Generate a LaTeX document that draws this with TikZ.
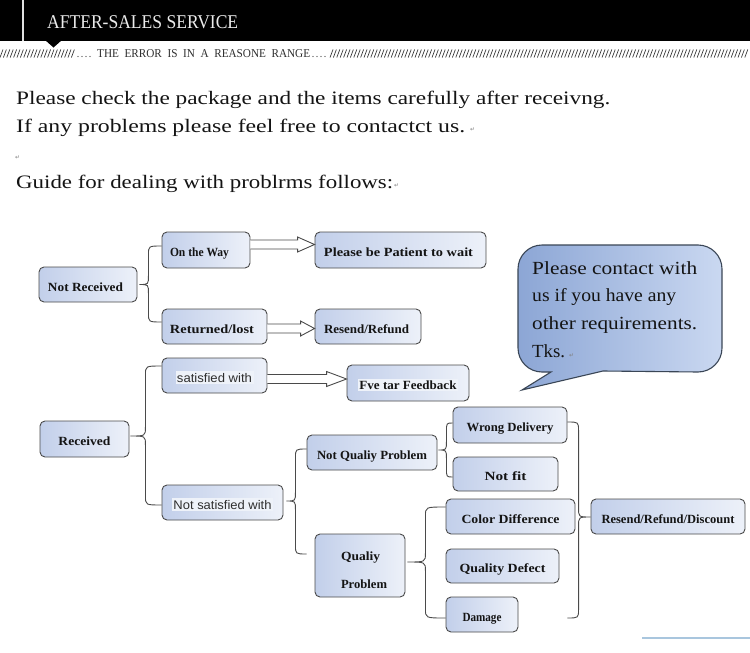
\documentclass[tikz,border=0pt]{standalone}
\usepackage{fontspec}
\setmainfont{Liberation Serif}
\newfontfamily\sansf{Liberation Sans}
\newfontfamily\symf{DejaVu Sans}
\usetikzlibrary{calc}
\definecolor{boxL}{HTML}{C2CFEA}
\definecolor{boxR}{HTML}{EDF1F9}
\definecolor{edge}{HTML}{4A4A4A}
\definecolor{bubL}{HTML}{8CA6D5}
\definecolor{bubR}{HTML}{CAD8F1}
\definecolor{bubE}{HTML}{3A4656}
\definecolor{hl}{HTML}{EEF2F9}
\definecolor{ink}{HTML}{141414}
\definecolor{sink}{HTML}{2E2E2E}
\definecolor{hatchc}{HTML}{3A3A3A}
\definecolor{lineblue}{HTML}{A9C6DE}
\newcommand\fw[2]{\resizebox{#1pt}{\height}{#2}}
\newcommand\mk{{\symf\fontsize{6}{6}\selectfont\color{gray}↵}}
\newcommand\hlbox[1]{{\setlength\fboxsep{1.5pt}\colorbox{hl}{#1}}}
% brace: #1 cusp, #2 offset of vertical from cusp, #3 top end, #4 bottom end
\newcommand\bracepath[4]{%
  \draw[conn] let \p1=#1, \p2=#3, \p3=#4, \n1={\x1+#2} in
    (\p2) .. controls (\n1,\y2) .. (\n1,\y2-9pt) -- (\n1,\y1+9pt)
    .. controls (\n1,\y1) .. (\p1)
    .. controls (\n1,\y1) .. (\n1,\y1-9pt) -- (\n1,\y3+9pt)
    .. controls (\n1,\y3) .. (\p3);}
% hollow block arrow: #1 start, #2 end, #3 head length
\newcommand\hollowarrow[3]{%
  \draw[harrow] let \p1=#1, \p2=#2 in
    (\x1,\y1+4.5pt) -- (\x2-#3,\y1+4.5pt) -- (\x2-#3,\y1+7.5pt) -- (\x2,\y1)
    -- (\x2-#3,\y1-7.5pt) -- (\x2-#3,\y1-4.5pt) -- (\x1,\y1-4.5pt);}
\begin{document}
\begin{tikzpicture}[x=1pt,y=-1pt,
  fbox/.style={draw=edge, line width=0.9pt, rounded corners=5pt,
    left color=boxL, right color=boxR, inner sep=0pt,
    text height=13pt, text depth=0pt, text=ink,
    font=\bfseries\fontsize{12.5}{14}\selectfont},
  sbox/.style={fbox, text=sink, font=\sansf\fontsize{12.5}{14}\selectfont},
  conn/.style={draw=edge, line width=0.9pt},
  harrow/.style={draw=edge, line width=0.9pt, fill=white, line join=miter},
  bubble/.style={draw=bubE, line width=1.1pt, left color=bubL, right color=bubR},
  para/.style={anchor=base west, inner sep=0pt, text=ink, font=\fontsize{19}{20}\selectfont},
  pmark/.style={anchor=base west, inner sep=0pt}
]
\useasboundingbox (0,0) rectangle (750,653);
\fill[white] (0,0) rectangle (750,653);

% ---------- header ----------
\fill[black] (0,0) rectangle (750,41);
\fill[white!88!black] (22,0) rectangle (24,41);
\fill[black] (45,40) -- (62,40) -- (53.5,47.5) -- cycle;
\node[anchor=base west, inner sep=0pt, text=white!92!black,
      font=\fontsize{19.5}{20}\selectfont] (title) at (47,28)
      {\fw{191}{AFTER-SALES SERVICE}};
\node[anchor=base west, inner sep=0pt, text=sink,
      font=\fontsize{12}{13}\selectfont] (subtitle) at (97,57)
      {\fw{213}{THE\ \ ERROR\ \ IS\ \ IN\ \ A\ \ REASONE\ \ RANGE}};
\foreach \hx in {0,3.4,...,72} \draw[hatchc, line width=0.7pt] (\hx,57.5) -- (\hx+3,49.5);
\foreach \hx in {330,333.4,...,748} \draw[hatchc, line width=0.7pt] (\hx,57.5) -- (\hx+3,49.5);
\foreach \hx in {78,82,86,90,313,317,321,325} \fill[hatchc] (\hx,56.5) circle (0.6);

% ---------- intro text ----------
\node[para] (t1) at (16,104.3) {\fw{594}{Please check the package and the items carefully after receivng.}};
\node[para] (t2) at (16,132.3) {\fw{449}{If any problems please feel free to contactct us.}};
\node[pmark] (m2) at (470,131) {\mk};
\node[pmark] (m3) at (15,159) {\mk};
\node[para] (t4) at (16,188.3) {\fw{377}{Guide for dealing with problrms follows:}};
\node[pmark] (m4) at (394,187) {\mk};

% ---------- speech bubble ----------
\draw[bubble] (542,245) -- (698,245) .. controls (711.25,245) and (722,255.75) .. (722,269)
  -- (722,348) .. controls (722,361.25) and (711.25,372) .. (698,372)
  -- (603,371) -- (522,390) -- (551,372) -- (542,372)
  .. controls (528.75,372) and (518,361.25) .. (518,348)
  -- (518,269) .. controls (518,255.75) and (528.75,245) .. (542,245) -- cycle;
\node[anchor=base west, inner sep=0pt, text=ink, font=\fontsize{18.5}{27.7}\selectfont] (bub) at (532,274)
  {\vtop{\hbox{\fw{165}{Please contact with}}\hbox{\fw{144}{us if you have any}}\hbox{\fw{165}{other requirements.}}\hbox{\fw{33}{Tks.}\kern4pt\mk}}};

% ---------- Not received branch ----------
\node[fbox, minimum width=98pt, minimum height=35pt] (nr) at (88,284.5) {\fw{75}{Not Received}\kern5pt};
\node[fbox, minimum width=88pt, minimum height=36pt] (otw) at (206,250) {\fw{59}{On the Way}\kern13pt};
\node[fbox, minimum width=171pt, minimum height=36pt] (pat) at (400.5,250) {\fw{149}{Please be Patient to wait}\kern4pt};
\node[fbox, minimum width=105pt, minimum height=35pt] (ret) at (214.5,326.5) {\fw{84}{Returned/lost}\kern5pt};
\node[fbox, minimum width=106pt, minimum height=35pt] (rr) at (368,326.5) {\fw{85}{Resend/Refund}\kern3pt};

% ---------- Received branch ----------
\node[sbox, minimum width=105pt, minimum height=35pt] (sat) at (214.5,375.5) {\hlbox{\fw{75}{satisfied with}}};
\node[fbox, minimum width=122pt, minimum height=36pt] (fve) at (408,383) {\hlbox{\fw{97}{Fve tar Feedback}}};
\node[fbox, minimum width=89pt, minimum height=36pt] (rec) at (84.5,439) {\fw{52}{Received}};
\node[sbox, minimum width=121pt, minimum height=35pt] (nsat) at (222.5,502.5) {\hlbox{\fw{98}{Not satisfied with}}};
\node[fbox, minimum width=130pt, minimum height=35pt] (nqp) at (372,452.5) {\fw{110}{Not Qualiy Problem}};
\node[fbox, minimum width=114pt, minimum height=36pt] (wd) at (510,425) {\fw{87}{Wrong Delivery}};
\node[fbox, minimum width=105pt, minimum height=34pt] (nf) at (505.5,474) {\fw{42}{Not fit}};
\node[fbox, minimum width=90pt, minimum height=63pt, text height=8pt, text depth=19pt] (qp) at (360,565.5)
  {\kern8pt\vtop{\baselineskip=28pt\hbox{\fw{39}{Qualiy}}\hbox{\fw{46}{Problem}}}};
\node[fbox, minimum width=129pt, minimum height=35pt] (cd) at (510.5,516.5) {\fw{98}{Color Difference}};
\node[fbox, minimum width=113pt, minimum height=34pt] (qd) at (502.5,566) {\fw{86}{Quality Defect}};
\node[fbox, minimum width=72pt, minimum height=35pt] (dm) at (482,614.5) {\fw{39}{Damage}};
\node[fbox, minimum width=154pt, minimum height=35pt] (rrd) at (668,516.5) {\fw{133}{Resend/Refund/Discount}};
\coordinate (bend) at ($(wd.east |- dm.east)+(0,3.5)$);

% ---------- connectors ----------
\bracepath{($(nr.east)+(2,0)$)}{9pt}{($(otw.west)+(0,-4)$)}{($(ret.west)+(0,-4.5)$)}
\bracepath{($(rec.east)+(1,-3)$)}{15pt}{($(sat.west)+(0,-9.5)$)}{($(nsat.west)+(0,2.5)$)}
\bracepath{($(nsat.east)+(3,-1.5)$)}{9pt}{($(nqp.west)+(0,-3.5)$)}{($(qp.west)+(-8,-11.5)$)}
\bracepath{($(nqp.east)+(1,-2.5)$)}{8pt}{($(wd.west)+(0,-2)$)}{($(nf.west)+(0,3)$)}
\bracepath{($(qp.east)+(2,-3.5)$)}{18pt}{($(cd.west)+(0,-9.5)$)}{($(dm.west)+(0,3.5)$)}
\bracepath{($(rrd.west)+(0,0.5)$)}{-12pt}{($(wd.east)+(0,-3)$)}{(bend)}

\hollowarrow{($(otw.east)+(0,-5.5)$)}{(pat.west)}{17pt}
\hollowarrow{($(ret.east)+(0,2)$)}{(rr.west)}{14pt}
\hollowarrow{($(sat.east)+(0,3.5)$)}{(fve.west)}{20pt}

% ---------- bottom-right rule ----------
\draw[lineblue, line width=1.5pt] (642,638) -- (750,638);
\end{tikzpicture}
\end{document}
